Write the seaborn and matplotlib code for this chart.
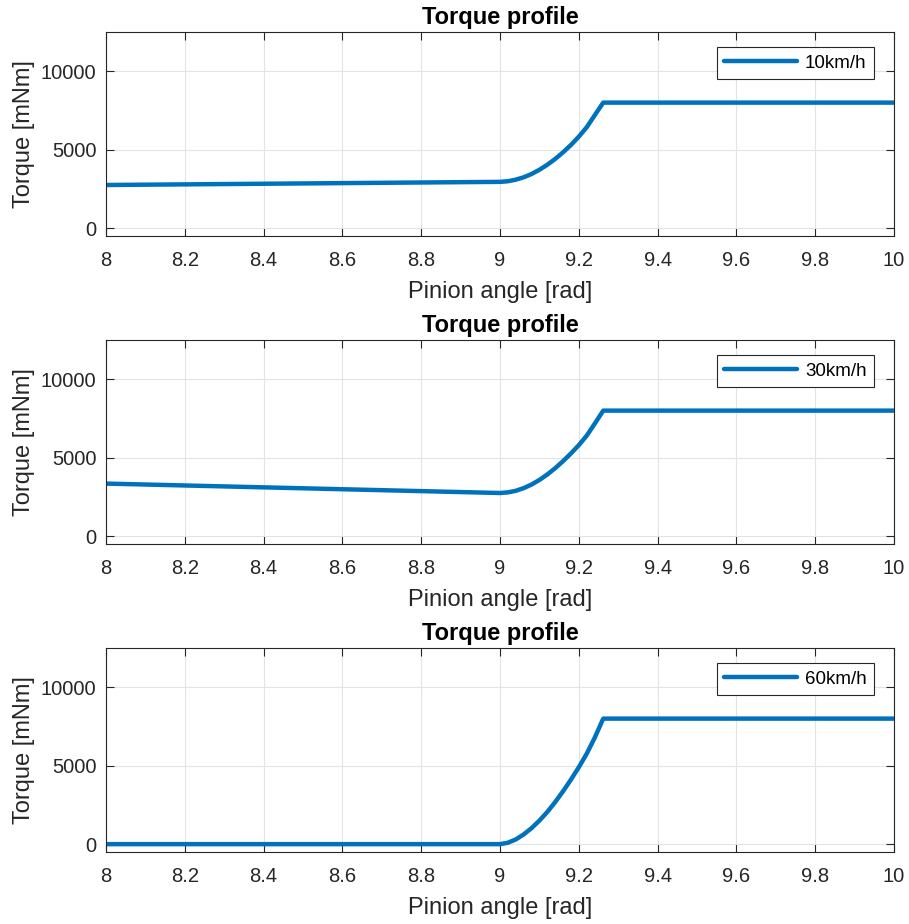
import matplotlib
matplotlib.use("Agg")
import matplotlib.pyplot as plt
import seaborn as sns
import pandas as pd

# Pinion angle samples [rad]
angle = [8.0, 9.0, 9.02, 9.04, 9.06, 9.08, 9.10, 9.12, 9.14, 9.16,
         9.18, 9.20, 9.22, 9.24, 9.262, 10.0]

# Torque [mNm] for each vehicle speed
torque_10 = [2750, 2950, 2990, 3090, 3240, 3450, 3720, 4040, 4410, 4830,
             5300, 5830, 6430, 7180, 8000, 8000]
torque_30 = [3350, 2750, 2790, 2890, 3060, 3290, 3580, 3930, 4330, 4780,
             5270, 5800, 6400, 7150, 8000, 8000]
torque_60 = [0, 0, 90, 300, 620, 1020, 1500, 2050, 2680, 3370,
             4110, 4900, 5760, 6760, 8000, 8000]

speeds = ["10km/h", "30km/h", "60km/h"]
profiles = [torque_10, torque_30, torque_60]

x_ticks = [8, 8.2, 8.4, 8.6, 8.8, 9, 9.2, 9.4, 9.6, 9.8, 10]
x_tick_labels = ["8", "8.2", "8.4", "8.6", "8.8", "9", "9.2", "9.4", "9.6", "9.8", "10"]
y_ticks = [0, 5000, 10000]

sns.set_theme(style="whitegrid")
plt.rcParams["font.family"] = ["Liberation Sans", "DejaVu Sans"]

line_color = "#0072BD"
axis_color = "#262626"

fig = plt.figure(figsize=(9.09, 9.24), dpi=100)
W, H = 909, 924
left_px, right_px = 106, 894
tops = [32, 340, 648]
ax_h = 204

for top, label, torque in zip(tops, speeds, profiles):
    ax = fig.add_axes([left_px / W, 1 - (top + ax_h) / H,
                       (right_px - left_px) / W, ax_h / H])
    df = pd.DataFrame({"angle": angle, "torque": torque, "speed": label})
    sns.lineplot(data=df, x="angle", y="torque", ax=ax, color=line_color,
                 linewidth=3.2, label=label, sort=False, estimator=None)
    ax.set_xlim(8, 10)
    ax.set_ylim(-500, 12500)
    ax.set_xticks(x_ticks)
    ax.set_xticklabels(x_tick_labels)
    ax.set_yticks(y_ticks)
    ax.set_facecolor("white")
    ax.grid(True, color="#e3e3e3", linewidth=0.8)
    for s in ax.spines.values():
        s.set_visible(True)
        s.set_color(axis_color)
        s.set_linewidth(0.8)
    ax.tick_params(axis="both", which="both", direction="in", length=5.8,
                   width=0.8, color=axis_color, labelcolor=axis_color,
                   labelsize=14.5, top=True, right=True, bottom=True, left=True)
    ax.tick_params(axis="x", pad=10.5)
    ax.tick_params(axis="y", pad=7)
    ax.set_xlabel("Pinion angle [rad]", fontsize=17, color=axis_color, labelpad=8)
    ax.set_ylabel("Torque [mNm]", fontsize=17, color=axis_color, labelpad=4)
    ax.set_title("Torque profile", fontsize=17, fontweight="bold", color="black", pad=6)
    leg = ax.legend(loc="upper right", bbox_to_anchor=(0.9746, 0.9265),
                    borderaxespad=0, fontsize=13.5, handlelength=3.9,
                    handletextpad=0.4, borderpad=0.4, fancybox=False,
                    framealpha=1, edgecolor=axis_color)
    leg.get_frame().set_linewidth(0.8)
    for t in leg.get_texts():
        t.set_color("black")

fig.savefig("out.png", dpi=100, facecolor="white")
